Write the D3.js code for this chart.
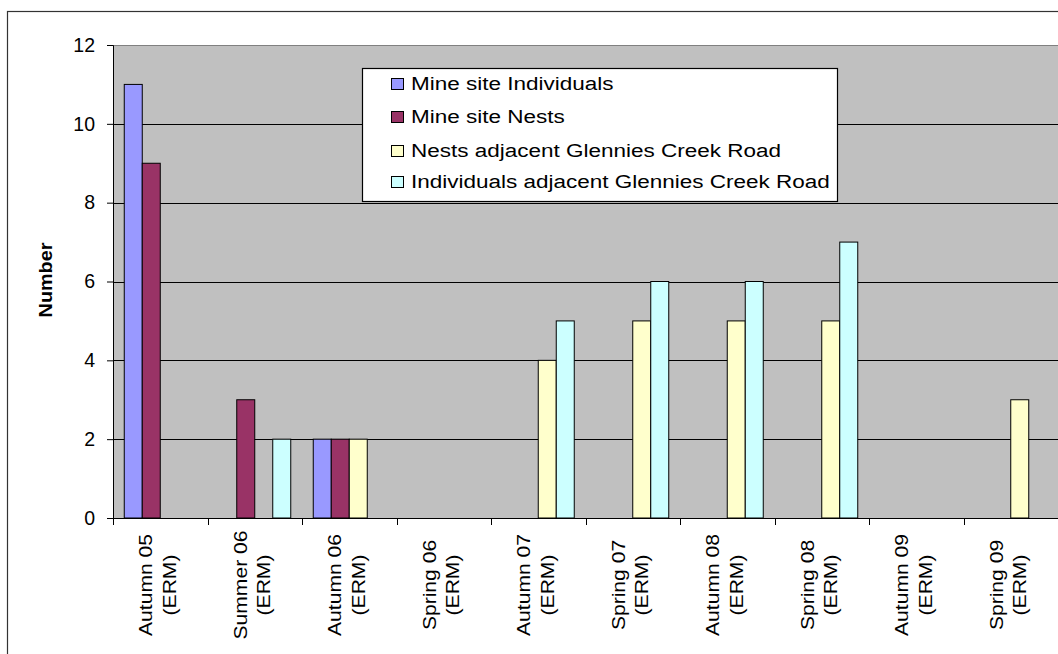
<!DOCTYPE html>
<html><head><meta charset="utf-8">
<script src="https://cdn.jsdelivr.net/npm/d3@7"></script>
<style>body{margin:0;background:#fff}svg{display:block}text{font-family:"Liberation Sans",Arial,sans-serif}</style>
</head><body><svg id="c" width="1058" height="654"></svg>
<script>
const categories = ["Autumn 05 (ERM)","Summer 06 (ERM)","Autumn 06 (ERM)","Spring 06 (ERM)","Autumn 07 (ERM)","Spring 07 (ERM)","Autumn 08 (ERM)","Spring 08 (ERM)","Autumn 09 (ERM)","Spring 09 (ERM)"];
const seriesNames = ["Mine site Individuals","Mine site Nests","Nests adjacent Glennies Creek Road","Individuals adjacent Glennies Creek Road"];
const mineIndividuals = [11,0,2,0,0,0,0,0,0,0];
const mineNests =       [9,3,2,0,0,0,0,0,0,0];
const roadNests =       [0,0,2,0,4,5,5,5,0,3];
const roadIndividuals = [0,2,0,0,5,6,6,7,0,0];
const colors = ["#9999FF","#993366","#FFFFCC","#CCFFFF"];
const yTicks = [0,2,4,6,8,10,12];

const seriesValues = [mineIndividuals, mineNests, roadNests, roadIndividuals];
const svg = d3.select("#c");
const L = 113, R = 1058, T = 45, B = 518;

svg.append("rect").attr("x",7.5).attr("y",11.5).attr("width",1100).attr("height",700)
  .attr("fill","#fff").attr("stroke","#333").attr("stroke-width",1.2);

const x0 = d3.scaleBand().domain(categories).range([L,R]).paddingInner(0).paddingOuter(0);
const x1 = d3.scaleBand().domain(seriesNames).range([0,x0.bandwidth()]).paddingInner(0).paddingOuter(0.625);
const y = d3.scaleLinear().domain([0,12]).range([B,T]);

svg.append("rect").attr("x",L).attr("y",T).attr("width",R-L+10).attr("height",B-T).attr("fill","#C0C0C0");
svg.append("line").attr("x1",L).attr("x2",R+10).attr("y1",T+0.5).attr("y2",T+0.5).attr("stroke","#808080");

// gridlines
svg.append("g").selectAll("line").data(yTicks.filter(d=>d>0&&d<12)).join("line")
  .attr("x1",L).attr("x2",R+10).attr("y1",d=>Math.round(y(d))+0.5).attr("y2",d=>Math.round(y(d))+0.5)
  .attr("stroke","#000").attr("stroke-width",1);

// bars
const data = [];
categories.forEach((c,i)=>seriesNames.forEach((s,j)=>{ if(seriesValues[j][i]>0) data.push({c,s,v:seriesValues[j][i],j}); }));
svg.append("g").selectAll("rect").data(data).join("rect")
  .attr("x",d=>x0(d.c)+x1(d.s)).attr("width",x1.bandwidth())
  .attr("y",d=>y(d.v)).attr("height",d=>B-y(d.v))
  .attr("fill",d=>colors[d.j]).attr("stroke","#000").attr("stroke-width",1);

// y axis
const ya = svg.append("g").attr("transform",`translate(${L},0)`)
  .call(d3.axisLeft(y).tickValues(yTicks).tickSize(6).tickPadding(12));
ya.select(".domain").attr("stroke","#000");
ya.selectAll("text").attr("font-size",19.5).attr("fill","#000").attr("font-family","Liberation Sans, Arial, sans-serif");

// x axis
const boundaries = categories.map(c=>x0(c)).concat([R]);
svg.append("line").attr("x1",L).attr("x2",R+10).attr("y1",B+0.5).attr("y2",B+0.5).attr("stroke","#000");
svg.append("g").selectAll("line").data(boundaries).join("line")
  .attr("x1",d=>Math.round(d)+0.5).attr("x2",d=>Math.round(d)+0.5).attr("y1",B).attr("y2",B+7).attr("stroke","#000");

const xl = svg.append("g").selectAll("text").data(categories).join("text")
  .attr("transform",d=>`translate(${x0(d)+x0.bandwidth()/2},585) rotate(-90) scale(1.14,1)`)
  .attr("text-anchor","middle").attr("font-size",18.5).attr("fill","#000");
xl.each(function(d){
  const parts = [d.replace(" (ERM)",""),"(ERM)"];
  d3.select(this).selectAll("tspan").data(parts).join("tspan")
    .attr("x",0).attr("dy",(p,i)=>i===0?-8:23.5).text(p=>p);
});

// y title
svg.append("text").attr("transform","translate(52,280) rotate(-90) scale(1.1,1)").attr("text-anchor","middle")
  .attr("font-size",18).attr("font-weight","bold").text("Number");

// legend
const lg = svg.append("g");
lg.append("rect").attr("x",362.5).attr("y",68.5).attr("width",475).attr("height",133)
  .attr("fill","#fff").attr("stroke","#000").attr("stroke-width",1.2);
const baselines = [90,123,157,188];
seriesNames.forEach((s,i)=>{
  lg.append("rect").attr("x",391.5).attr("y",baselines[i]-11.5).attr("width",12).attr("height",11)
    .attr("fill",colors[i]).attr("stroke","#000");
  lg.append("text").attr("transform",`translate(411,${baselines[i]}) scale(1.25,1)`)
    .attr("font-size",18).text(s);
});
</script></body></html>
